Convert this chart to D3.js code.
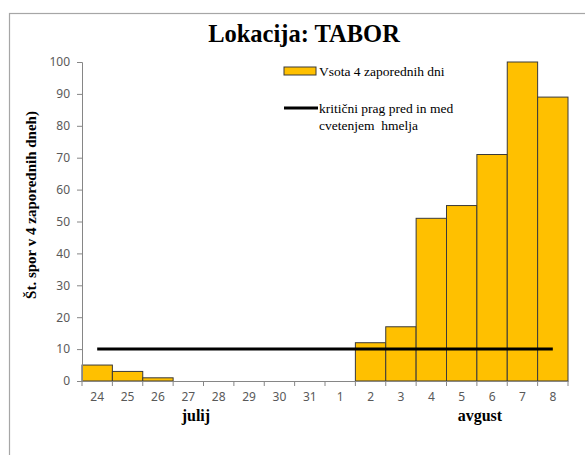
<!DOCTYPE html>
<html>
<head>
<meta charset="utf-8">
<script src="https://cdn.jsdelivr.net/npm/d3@7"></script>
<style>
body { margin: 0; background: #fff; }
.tick text { font-family: "Noto Sans", "Open Sans", sans-serif; font-size: 12px; fill: #595959; }
</style>
</head>
<body>
<script>
//chart data
var days = ["24", "25", "26", "27", "28", "29", "30", "31", "1", "2", "3", "4", "5", "6", "7", "8"];
var sums = [5, 3, 1, 0, 0, 0, 0, 0, 0, 12, 17, 51, 55, 71, 100, 89];
var threshold = [10, 10, 10, 10, 10, 10, 10, 10, 10, 10, 10, 10, 10, 10, 10, 10];
var yTicks = [0, 10, 20, 30, 40, 50, 60, 70, 80, 90, 100];
var months = ["julij", "avgust"];
var monthAt = ["27", "6"];

var width = 585, height = 455;
var margin = {left: 82, right: 17, top: 62, bottom: 74};
var serif = "'Liberation Serif', 'DejaVu Serif', serif";

var svg = d3.select("body").append("svg")
    .attr("width", width)
    .attr("height", height);

//outer frame of the chart object
svg.append("rect")
    .attr("x", 9.5).attr("y", 13.5)
    .attr("width", 600).attr("height", 500)
    .attr("fill", "none")
    .attr("stroke", "#a6a6a6")
    .attr("stroke-width", 1.2);

var x = d3.scaleBand()
    .domain(days)
    .range([margin.left, width - margin.right])
    .padding(0);

var y = d3.scaleLinear()
    .domain([0, 100])
    .range([height - margin.bottom, margin.top]);

//bars
svg.selectAll(".bar")
    .data(sums)
    .enter()
    .append("rect")
    .attr("class", "bar")
    .attr("x", function(d, i){ return x(days[i]); })
    .attr("y", function(d){ return y(d); })
    .attr("width", x.bandwidth())
    .attr("height", function(d){ return y(0) - y(d); })
    .attr("fill", "#ffc000")
    .attr("stroke", "#3a3a3a")
    .attr("stroke-width", 1);

//threshold line
var line = d3.line()
    .x(function(d, i){ return x(days[i]) + x.bandwidth() / 2; })
    .y(function(d){ return y(d); });

svg.append("path")
    .datum(threshold)
    .attr("d", line)
    .attr("fill", "none")
    .attr("stroke", "#000")
    .attr("stroke-width", 3);

//y axis
var yAxis = svg.append("g")
    .attr("transform", "translate(" + margin.left + ",0)")
    .call(d3.axisLeft(y).tickValues(yTicks).tickSize(5).tickPadding(7));
yAxis.selectAll("line, path").attr("stroke", "#868686");

//x axis, ticks between categories
var xAxis = svg.append("g")
    .attr("transform", "translate(0," + y(0) + ")")
    .call(d3.axisBottom(x).tickSize(0).tickPadding(11));
xAxis.select(".domain").attr("stroke", "#868686");
xAxis.selectAll(".sep")
    .data(days)
    .enter()
    .append("line")
    .attr("class", "sep")
    .attr("x1", function(d){ return x(d); })
    .attr("x2", function(d){ return x(d); })
    .attr("y1", 0).attr("y2", 5)
    .attr("stroke", "#868686");
xAxis.append("line")
    .attr("x1", width - margin.right).attr("x2", width - margin.right)
    .attr("y1", 0).attr("y2", 5)
    .attr("stroke", "#868686");

//month labels
svg.selectAll(".month")
    .data(months)
    .enter()
    .append("text")
    .attr("class", "month")
    .attr("x", function(d, i){ return x(monthAt[i]) + (i == 0 ? 0.75 : 0.1) * x.bandwidth(); })
    .attr("y", 421)
    .attr("text-anchor", "middle")
    .attr("font-family", serif)
    .attr("font-size", 16)
    .attr("font-weight", "bold")
    .text(function(d){ return d; });

//title
svg.append("text")
    .attr("x", 304)
    .attr("y", 42)
    .attr("text-anchor", "middle")
    .attr("font-family", serif)
    .attr("font-size", 24.5)
    .attr("font-weight", "bold")
    .text("Lokacija: TABOR");

//y axis title
svg.append("text")
    .attr("transform", "translate(36,205) rotate(-90)")
    .attr("text-anchor", "middle")
    .attr("font-family", serif)
    .attr("font-size", 15)
    .attr("font-weight", "bold")
    .text("Št. spor v 4 zaporednih dneh)");

//legend
var legend = svg.append("g").attr("transform", "translate(284,0)");
legend.append("rect")
    .attr("x", 0).attr("y", 67)
    .attr("width", 32).attr("height", 8)
    .attr("fill", "#ffc000")
    .attr("stroke", "#3a3a3a");
legend.append("text")
    .attr("x", 35).attr("y", 75.5)
    .attr("font-family", serif)
    .attr("font-size", 13.5)
    .text("Vsota 4 zaporednih dni");
legend.append("line")
    .attr("x1", 0).attr("x2", 34)
    .attr("y1", 108).attr("y2", 108)
    .attr("stroke", "#000")
    .attr("stroke-width", 3);
legend.append("text")
    .attr("x", 35).attr("y", 112.5)
    .attr("font-family", serif)
    .attr("font-size", 13.5)
    .text("kritični prag pred in med");
legend.append("text")
    .attr("x", 35).attr("y", 129.5)
    .attr("font-family", serif)
    .attr("font-size", 13.5)
    .attr("xml:space", "preserve")
    .style("white-space", "pre")
    .text("cvetenjem  hmelja");
</script>
</body>
</html>
